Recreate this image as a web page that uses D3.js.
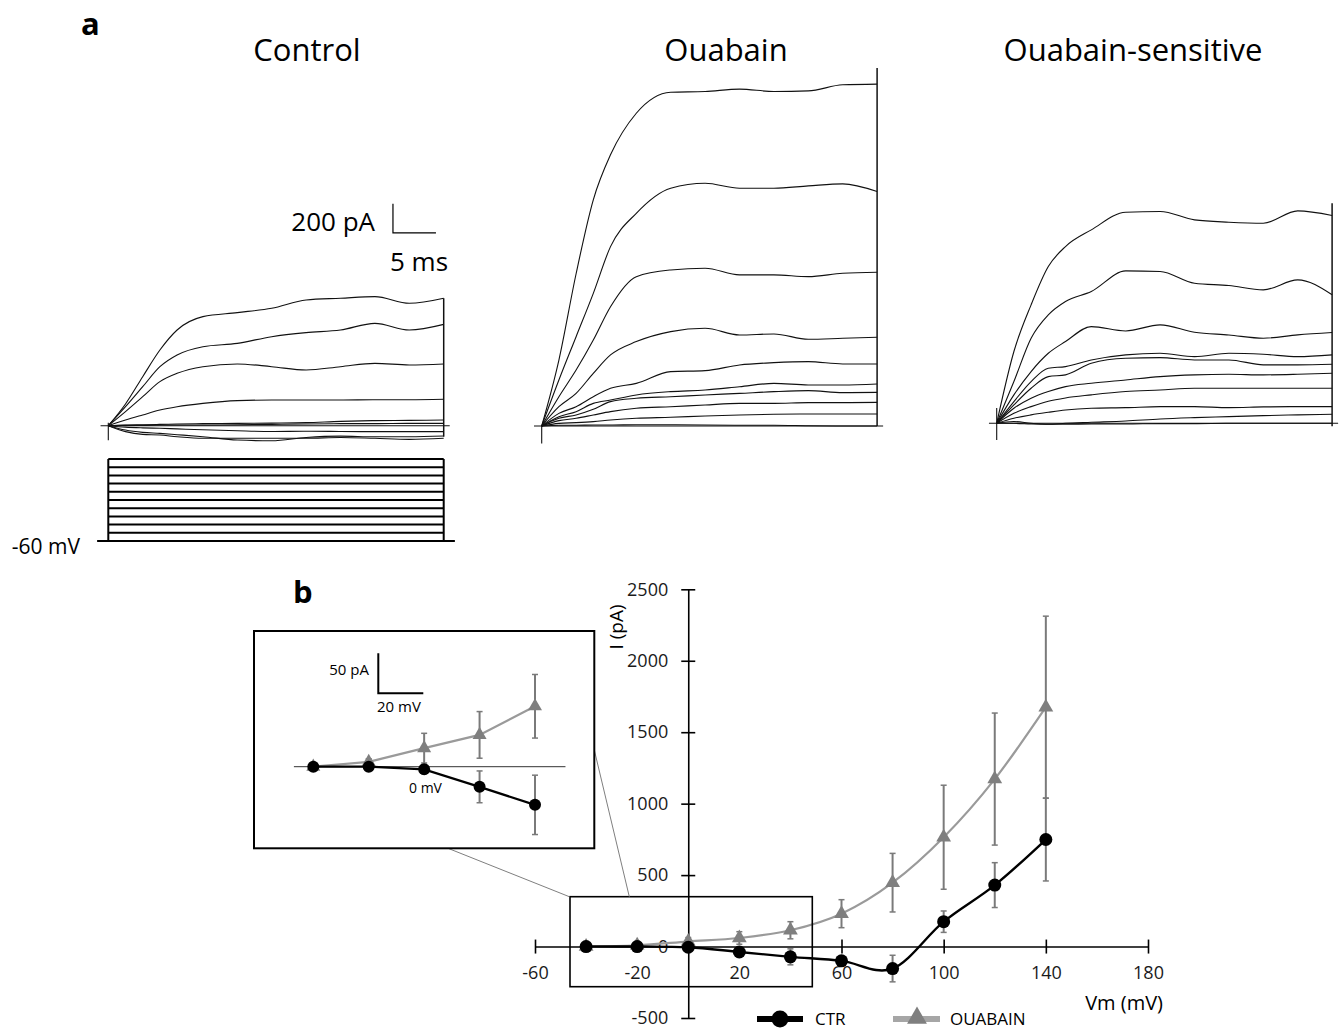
<!DOCTYPE html>
<meta charset="utf-8">
<style>
body { margin: 0; background: #fff; }
svg { font-family: "Open Sans", sans-serif; }
.trace { fill: none; stroke: #111; stroke-width: 1.1px; }
.step { fill: none; stroke: #000; stroke-width: 2px; }
.axis path, .axis line { stroke: #000; stroke-width: 1.6px; }
.axis text { font-family: "Open Sans", sans-serif; font-size: 18px; fill: #1a1a1a; }
.errbar { stroke: #7a7a7a; stroke-width: 2px; }
</style>
<svg width="1344" height="1030"></svg>
<script src="https://d3js.org/d3.v7.min.js"></script>
<script>
// ---- panel a : current traces (pA) sampled at these times (ms) ----
var panelTitles = ["Control", "Ouabain", "Ouabain-sensitive"];
var pulseMs = 39;
var traceTimes = [0, 2, 4, 6, 8, 11, 15, 19, 23, 27, 31, 35, 39];

var controlTraces = [
  [0, 150, 338, 522, 660, 752, 780, 810, 867, 879, 890, 844, 879],
  [0, 131, 269, 407, 488, 545, 568, 614, 642, 660, 706, 660, 699],
  [0, 97, 200, 304, 361, 407, 426, 407, 384, 407, 430, 419, 426],
  [0, 39, 74, 108, 131, 154, 173, 177, 177, 177, 179, 179, 182],
  [0, 5, 7, 9, 12, 14, 16, 18, 21, 30, 35, 37, 39],
  [0, 2, 2, 5, 5, 5, 7, 9, 12, 14, 14, 16, 16],
  [0, -10, -15, -18, -22, -28, -35, -40, -38, -40, -41, -41, -41],
  [0, -30, -46, -53, -62, -76, -99, -104, -81, -72, -76, -76, -71],
  [0, -41, -60, -64, -76, -87, -87, -87, -87, -81, -87, -94, -87]
];
var ouabainTraces = [
  [0, 455, 1050, 1560, 1870, 2157, 2302, 2307, 2323, 2307, 2311, 2353, 2358],
  [0, 317, 616, 915, 1237, 1467, 1640, 1674, 1640, 1640, 1656, 1670, 1617],
  [0, 202, 386, 593, 823, 1030, 1076, 1088, 1042, 1042, 1030, 1053, 1060],
  [0, 133, 225, 363, 490, 582, 651, 674, 628, 635, 598, 605, 612],
  [0, 87, 133, 202, 260, 294, 375, 382, 421, 437, 444, 428, 428],
  [0, 64, 99, 156, 179, 214, 237, 248, 271, 294, 283, 283, 290],
  [0, 53, 76, 115, 168, 191, 202, 214, 225, 237, 244, 230, 232],
  [0, 37, 53, 76, 99, 122, 133, 145, 156, 156, 161, 161, 163],
  [0, 18, 23, 30, 41, 53, 60, 69, 76, 81, 83, 83, 83],
  [0, 5, 5, 7, 7, 9, 9, 7, 5, 5, 2, 0, 0]
];
var sensitiveTraces = [
  [0, 495, 817, 1081, 1219, 1334, 1456, 1461, 1403, 1387, 1380, 1465, 1433],
  [0, 288, 587, 748, 840, 909, 1051, 1047, 966, 950, 920, 989, 886],
  [0, 196, 357, 483, 564, 667, 637, 679, 628, 609, 587, 610, 626],
  [0, 150, 288, 380, 391, 437, 472, 483, 460, 483, 476, 460, 472],
  [0, 127, 242, 322, 334, 414, 449, 453, 437, 437, 403, 403, 407],
  [0, 104, 173, 219, 253, 276, 299, 322, 334, 338, 334, 338, 345],
  [0, 69, 115, 152, 175, 196, 219, 230, 242, 242, 242, 242, 242],
  [0, 35, 58, 76, 92, 104, 108, 115, 115, 108, 113, 115, 115],
  [0, 12, 0, -7, 0, 7, 16, 30, 39, 46, 53, 58, 62],
  [0, 0, -5, -7, -7, -5, -5, -2, -2, 0, 0, 0, 0]
];
// capacitive artifact at pulse start and tail at pulse end [min, max] pA
var startSpikes = [[-100, 20], [-120, 0], [-115, 105]];
var endTails = [[-76, 879], [0, 2469], [-20, 1517]];

// voltage protocol (mV)
var stepVoltages = [-60, -40, -20, 0, 20, 40, 60, 80, 100, 120, 140];

// ---- panel b : I-V relation ----
var ivVoltages = [-40, -20, 0, 20, 40, 60, 80, 100, 120, 140];
var ctrCurrent = [0, 0, -5, -38, -72, -100, -154, 174, 430, 749];
var ctrError = [4, 5, 8, 30, 56, 28, 93, 75, 157, 290];
var ouaCurrent = [0, 9, 35, 60, 114, 230, 447, 765, 1172, 1675];
var ouaError = [3, 6, 28, 44, 60, 98, 205, 364, 462, 637];
var xTicks = [-60, -20, 20, 60, 100, 140, 180];
var yTicks = [-500, 0, 500, 1000, 1500, 2000, 2500];
var insetVoltages = ivVoltages.slice(0, 5);

var svg = d3.select("svg");
var plain = function(d) { return String(d); };

// ================= panel a =================
var msPx = 8.6, pAPx = 0.145;
var layout = [
  {x0: 108.3, y0: 425.7, titleX: 307},
  {x0: 541.7, y0: 426, titleX: 726},
  {x0: 996.7, y0: 423.3, titleX: 1133}
];
var allTraces = [controlTraces, ouabainTraces, sensitiveTraces];
var scalesA = [];

layout.forEach(function(p, k) {
  var x = d3.scaleLinear().domain([0, pulseMs]).range([p.x0, p.x0 + pulseMs * msPx]);
  var y = d3.scaleLinear().domain([0, 1000]).range([p.y0, p.y0 - 1000 * pAPx]);
  scalesA.push({x: x, y: y});

  svg.append("text")
      .attr("x", p.titleX).attr("y", 61)
      .attr("text-anchor", "middle")
      .style("font-size", "31px")
      .text(panelTitles[k]);

  var g = svg.append("g");
  g.append("line").attr("class", "trace")
      .attr("x1", x(-0.9)).attr("x2", x(pulseMs + 0.7))
      .attr("y1", y(0)).attr("y2", y(0));

  var line = d3.line()
      .x(function(d, i) { return x(traceTimes[i]); })
      .y(function(d) { return y(d); })
      .curve(d3.curveMonotoneX);

  g.selectAll("path.tr")
    .data(allTraces[k])
    .enter().append("path")
      .attr("class", "trace tr")
      .attr("d", line);

  g.append("line").attr("class", "trace")
      .attr("x1", x(0)).attr("x2", x(0))
      .attr("y1", y(startSpikes[k][0])).attr("y2", y(startSpikes[k][1]));
  g.append("line").attr("class", "trace")
      .attr("x1", x(pulseMs)).attr("x2", x(pulseMs))
      .attr("y1", y(endTails[k][0])).attr("y2", y(endTails[k][1]))
      .style("stroke-width", "1.5px");
});

// scale bar (200 pA / 5 ms) on control panel
var cx = scalesA[0].x, cy = scalesA[0].y;
svg.append("path")
    .attr("fill", "none").attr("stroke", "#000").attr("stroke-width", 1.2)
    .attr("d", "M" + cx(33.1) + "," + cy(1530) + "V" + cy(1330) + "H" + cx(38.1));
svg.append("text").attr("x", 375).attr("y", 231)
    .attr("text-anchor", "end").style("font-size", "26px").text("200 pA");
svg.append("text").attr("x", 390).attr("y", 271)
    .style("font-size", "26px").text("5 ms");

// voltage protocol
var vy = d3.scaleLinear().domain([-60, 140]).range([541, 459]);
var proto = svg.append("g");
proto.selectAll("line.lvl")
  .data(stepVoltages)
  .enter().append("line")
    .attr("class", "step lvl")
    .attr("x1", cx(0)).attr("x2", cx(pulseMs))
    .attr("y1", function(d) { return vy(d); })
    .attr("y2", function(d) { return vy(d); });
proto.append("path").attr("class", "step")
    .attr("d", "M" + cx(-1.3) + "," + vy(-60) + "H" + cx(0) + "V" + vy(140));
proto.append("path").attr("class", "step")
    .attr("d", "M" + cx(pulseMs) + "," + vy(140) + "V" + vy(-60) + "H" + cx(pulseMs + 1.3));
svg.append("text").attr("x", 80).attr("y", 554)
    .attr("text-anchor", "end").style("font-size", "21px").text("-60 mV");

// panel letters
svg.append("text").attr("x", 81).attr("y", 35)
    .style("font-size", "31px").style("font-weight", "bold").text("a");
svg.append("text").attr("x", 293).attr("y", 603)
    .style("font-size", "31px").style("font-weight", "bold").text("b");

// ================= panel b =================
var xb = d3.scaleLinear().domain([-60, 180]).range([535, 1148]);
var yb = d3.scaleLinear().domain([-500, 2500]).range([1018, 589.3]);

var xAxis = svg.append("g").attr("class", "axis")
    .attr("transform", "translate(0," + yb(0) + ")")
    .call(d3.axisBottom(xb).tickValues(xTicks).tickFormat(plain)
      .tickSize(7).tickSizeOuter(0).tickPadding(13));
xAxis.selectAll(".tick line").attr("y1", -7)
    .style("display", function(d) { return Math.abs(d) < 40 ? "none" : null; });

var yAxis = svg.append("g").attr("class", "axis")
    .attr("transform", "translate(" + xb(0) + ",0)")
    .call(d3.axisLeft(yb).tickValues(yTicks).tickFormat(plain)
      .tickSize(7).tickSizeOuter(0).tickPadding(13));
yAxis.selectAll(".tick line").attr("x1", 7);

svg.append("text")
    .attr("transform", "translate(623,627) rotate(-90)")
    .attr("text-anchor", "middle").style("font-size", "19px").text("I (pA)");
svg.append("text").attr("x", 1163).attr("y", 1010)
    .attr("text-anchor", "end").style("font-size", "20px").text("Vm (mV)");

var ctrColor = "#000", ouaLine = "#9a9a9a", ouaMark = "#7f7f7f";
var tri = d3.symbol().type(d3.symbolTriangle);

function drawSeries(g, xs, ys, volts, vals, errs, opt) {
  var pts = volts.map(function(v, i) { return [v, vals[i], errs[i]]; });
  g.selectAll(null).data(pts).enter().append("line")
      .attr("class", "errbar")
      .attr("x1", function(d) { return xs(d[0]); }).attr("x2", function(d) { return xs(d[0]); })
      .attr("y1", function(d) { return ys(d[1] - d[2]); }).attr("y2", function(d) { return ys(d[1] + d[2]); });
  [-1, 1].forEach(function(s) {
    g.selectAll(null).data(pts).enter().append("line")
        .attr("class", "errbar").style("stroke-width", "1.5px")
        .attr("x1", function(d) { return xs(d[0]) - 3; }).attr("x2", function(d) { return xs(d[0]) + 3; })
        .attr("y1", function(d) { return ys(d[1] + s * d[2]); }).attr("y2", function(d) { return ys(d[1] + s * d[2]); });
  });
  g.append("path").datum(pts)
      .attr("fill", "none").attr("stroke", opt.line).attr("stroke-width", opt.width)
      .attr("d", d3.line().x(function(d) { return xs(d[0]); }).y(function(d) { return ys(d[1]); }).curve(opt.curve));
  if (opt.circle) {
    g.selectAll(null).data(pts).enter().append("circle")
        .attr("cx", function(d) { return xs(d[0]); }).attr("cy", function(d) { return ys(d[1]); })
        .attr("r", opt.r).attr("fill", opt.mark);
  } else {
    g.selectAll(null).data(pts).enter().append("path")
        .attr("d", tri.size(opt.size))
        .attr("transform", function(d) { return "translate(" + xs(d[0]) + "," + ys(d[1]) + ")"; })
        .attr("fill", opt.mark);
  }
}

var plotB = svg.append("g");
drawSeries(plotB, xb, yb, ivVoltages, ouaCurrent, ouaError,
  {line: ouaLine, width: 2.2, curve: d3.curveCardinal.tension(0), mark: ouaMark, size: 95});
drawSeries(plotB, xb, yb, ivVoltages, ctrCurrent, ctrError,
  {line: ctrColor, width: 2.4, curve: d3.curveCardinal.tension(0), mark: ctrColor, circle: true, r: 6.5});

// zoom box and connectors
svg.append("rect").attr("x", 570).attr("y", 896.7).attr("width", 242.3).attr("height", 90)
    .attr("fill", "none").attr("stroke", "#000").attr("stroke-width", 1.6);
svg.append("line").attr("x1", 448).attr("y1", 848.3).attr("x2", 569.3).attr("y2", 896.7)
    .attr("stroke", "#7f7f7f").attr("stroke-width", 1);
svg.append("line").attr("x1", 594.3).attr("y1", 750).attr("x2", 629.3).attr("y2", 896.7)
    .attr("stroke", "#7f7f7f").attr("stroke-width", 1);

// inset
svg.append("rect").attr("x", 254).attr("y", 631).attr("width", 340.3).attr("height", 217.3)
    .attr("fill", "#fff").attr("stroke", "#000").attr("stroke-width", 2);
var xi = d3.scaleLinear().domain([-40, 40]).range([313.3, 535]);
var yi = d3.scaleLinear().domain([0, 100]).range([766.7, 713.7]);
svg.append("line").attr("x1", xi(-47)).attr("x2", xi(51)).attr("y1", yi(0)).attr("y2", yi(0))
    .attr("stroke", "#333").attr("stroke-width", 1);
var inset = svg.append("g");
drawSeries(inset, xi, yi, insetVoltages, ouaCurrent, ouaError,
  {line: ouaLine, width: 2.2, curve: d3.curveLinear, mark: ouaMark, size: 85});
drawSeries(inset, xi, yi, insetVoltages, ctrCurrent, ctrError,
  {line: ctrColor, width: 2.2, curve: d3.curveLinear, mark: ctrColor, circle: true, r: 6});
svg.append("text").attr("x", 409).attr("y", 793).style("font-size", "14px").text("0 mV");
svg.append("path").attr("fill", "none").attr("stroke", "#000").attr("stroke-width", 2)
    .attr("d", "M378.3,653.3V693.3H423.3");
svg.append("text").attr("x", 369).attr("y", 675).attr("text-anchor", "end")
    .style("font-size", "15px").text("50 pA");
svg.append("text").attr("x", 377).attr("y", 712).style("font-size", "15px").text("20 mV");

// legend
var leg = svg.append("g").attr("transform", "translate(0,1019)");
leg.append("line").attr("x1", 757).attr("x2", 803).attr("stroke", ctrColor).attr("stroke-width", 6);
leg.append("circle").attr("cx", 780).attr("r", 8.5).attr("fill", ctrColor);
leg.append("text").attr("x", 815).attr("y", 6).style("font-size", "17px").text("CTR");
leg.append("line").attr("x1", 893).attr("x2", 940).attr("stroke", "#a6a6a6").attr("stroke-width", 6);
leg.append("path").attr("d", tri.size(170)).attr("transform", "translate(917,-1)").attr("fill", ouaMark);
leg.append("text").attr("x", 950).attr("y", 6).style("font-size", "17px").text("OUABAIN");
</script>
